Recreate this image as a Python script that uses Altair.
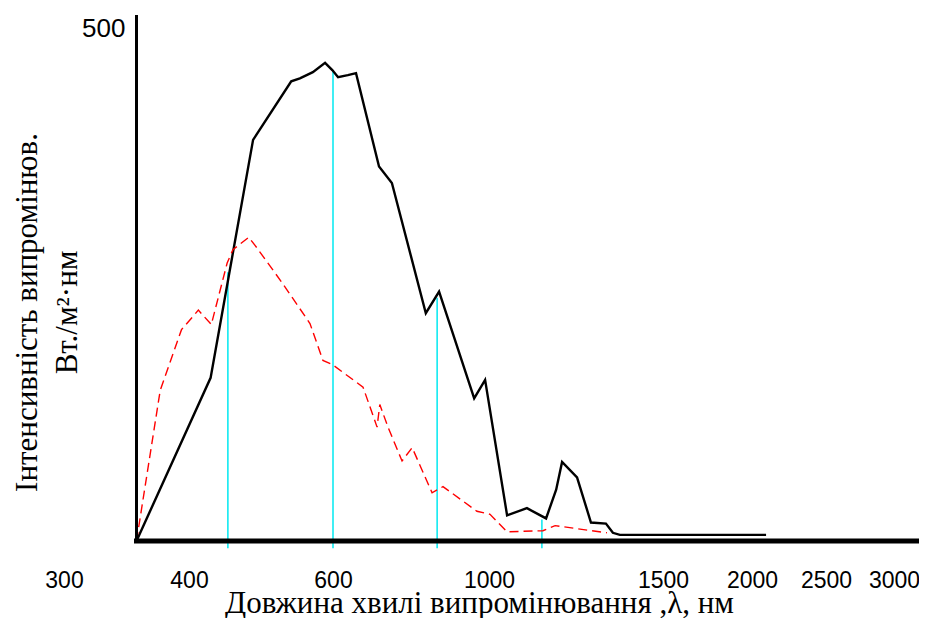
import altair as alt
import pandas as pd

# ---- data (wavelength nm, intensity) ----
black_nm = [358, 430, 489, 542, 554, 572, 589, 599, 613, 638, 659, 718, 751, 838, 872,
            962, 990, 1052, 1109, 1164, 1193, 1210, 1253, 1293, 1336, 1356, 1376, 2095]
black_val = [0, 159, 391, 448, 451, 457, 466, 459, 452, 454, 456, 365, 349, 222, 243,
             139, 157, 25, 32, 22, 50, 77, 62, 18, 17, 8, 6, 6]

red_nm = [358, 377, 394, 413, 431, 453, 461, 483, 494, 529, 568, 586, 599, 677, 713,
          720, 741, 777, 803, 854, 882, 969, 1003, 1052, 1155, 1190, 1253, 1339]
red_val = [0, 147, 206, 225, 211, 271, 284, 296, 286, 252, 212, 176, 172, 150, 111,
           133, 111, 78, 91, 47, 53, 29, 26, 9, 10, 15, 12, 8]

drop_nm = [454, 600, 867, 1152]
drop_top = [262, 459, 237, 21]

tick_nm = [300, 400, 600, 1000, 1500, 2000, 2500, 3000]
y_ticks = [500]

x_title = "Довжина хвилі випромінювання ,λ, нм"
y_title = ["Інтенсивність випромінюв.", "Вт./м²·нм"]

black_df = pd.DataFrame({"x": black_nm, "y": black_val})
red_df = pd.DataFrame({"x": red_nm, "y": red_val})
drop_df = pd.DataFrame({"x": drop_nm, "y": drop_top, "y2": [-7] * len(drop_nm)})
xaxis_df = pd.DataFrame({"x": [356], "x2": [3230], "y": [0]})
yaxis_df = pd.DataFrame({"x": [358], "y": [-1], "y2": [512.7]})

W, H = 911, 610

xs = alt.Scale(type="linear", domain=tick_nm,
               range=[56, 181, 325, 481, 655, 744, 818, 886], nice=False, zero=False)
ys = alt.Scale(type="linear", domain=[0, 500], range=[533, 20], nice=False, zero=False)

xaxis = alt.Axis(values=tick_nm, format="d", title=x_title, domain=False, ticks=False,
                 grid=False, labelPadding=28, offset=-77, labelFont="Liberation Sans",
                 labelFontSize=23, labelColor="black", labelFlush=False, labelOverlap=False,
                 titleFont="Liberation Serif", titleFontSize=31, titleFontWeight="normal",
                 titleColor="black", titleX=471, titleY=71, titleBaseline="alphabetic",
                 titleAlign="center")
yaxis = alt.Axis(values=y_ticks, format="d", title=y_title, domain=False, ticks=False,
                 grid=False, offset=-117, labelPadding=0, labelFont="Liberation Sans",
                 labelFontSize=26, labelColor="black", labelFlush=False,
                 titleFont="Liberation Serif", titleFontSize=31, titleFontWeight="normal",
                 titleColor="black", titleAngle=270, titleLineHeight=40,
                 titleBaseline="alphabetic", titleAlign="center", titleX=-89, titleY=304)


def X(field="x"):
    return alt.X(f"{field}:Q", scale=xs, axis=xaxis)


def Y(field="y"):
    return alt.Y(f"{field}:Q", scale=ys, axis=yaxis)


drops = alt.Chart(drop_df).mark_rule(color="#00e8f0", strokeWidth=1.5).encode(
    x=X(), y=Y(), y2="y2:Q")
black = alt.Chart(black_df).mark_line(color="black", strokeWidth=2.4).encode(x=X(), y=Y())
red = alt.Chart(red_df).mark_line(color="#ff0000", strokeWidth=1.4, strokeDash=[9, 5]).encode(
    x=X(), y=Y())
xline = alt.Chart(xaxis_df).mark_rule(color="black", strokeWidth=5).encode(
    x=X(), x2="x2:Q", y=Y())
yline = alt.Chart(yaxis_df).mark_rule(color="black", strokeWidth=3).encode(
    x=X(), y=Y(), y2="y2:Q")

chart = alt.layer(drops, black, red, xline, yline).properties(
    width=W, height=H, autosize=alt.AutoSizeParams(type="none"), padding=0,
    background="white"
).configure_view(stroke=None)

chart.save("out.html", embed_options={"renderer": "svg", "actions": False})
